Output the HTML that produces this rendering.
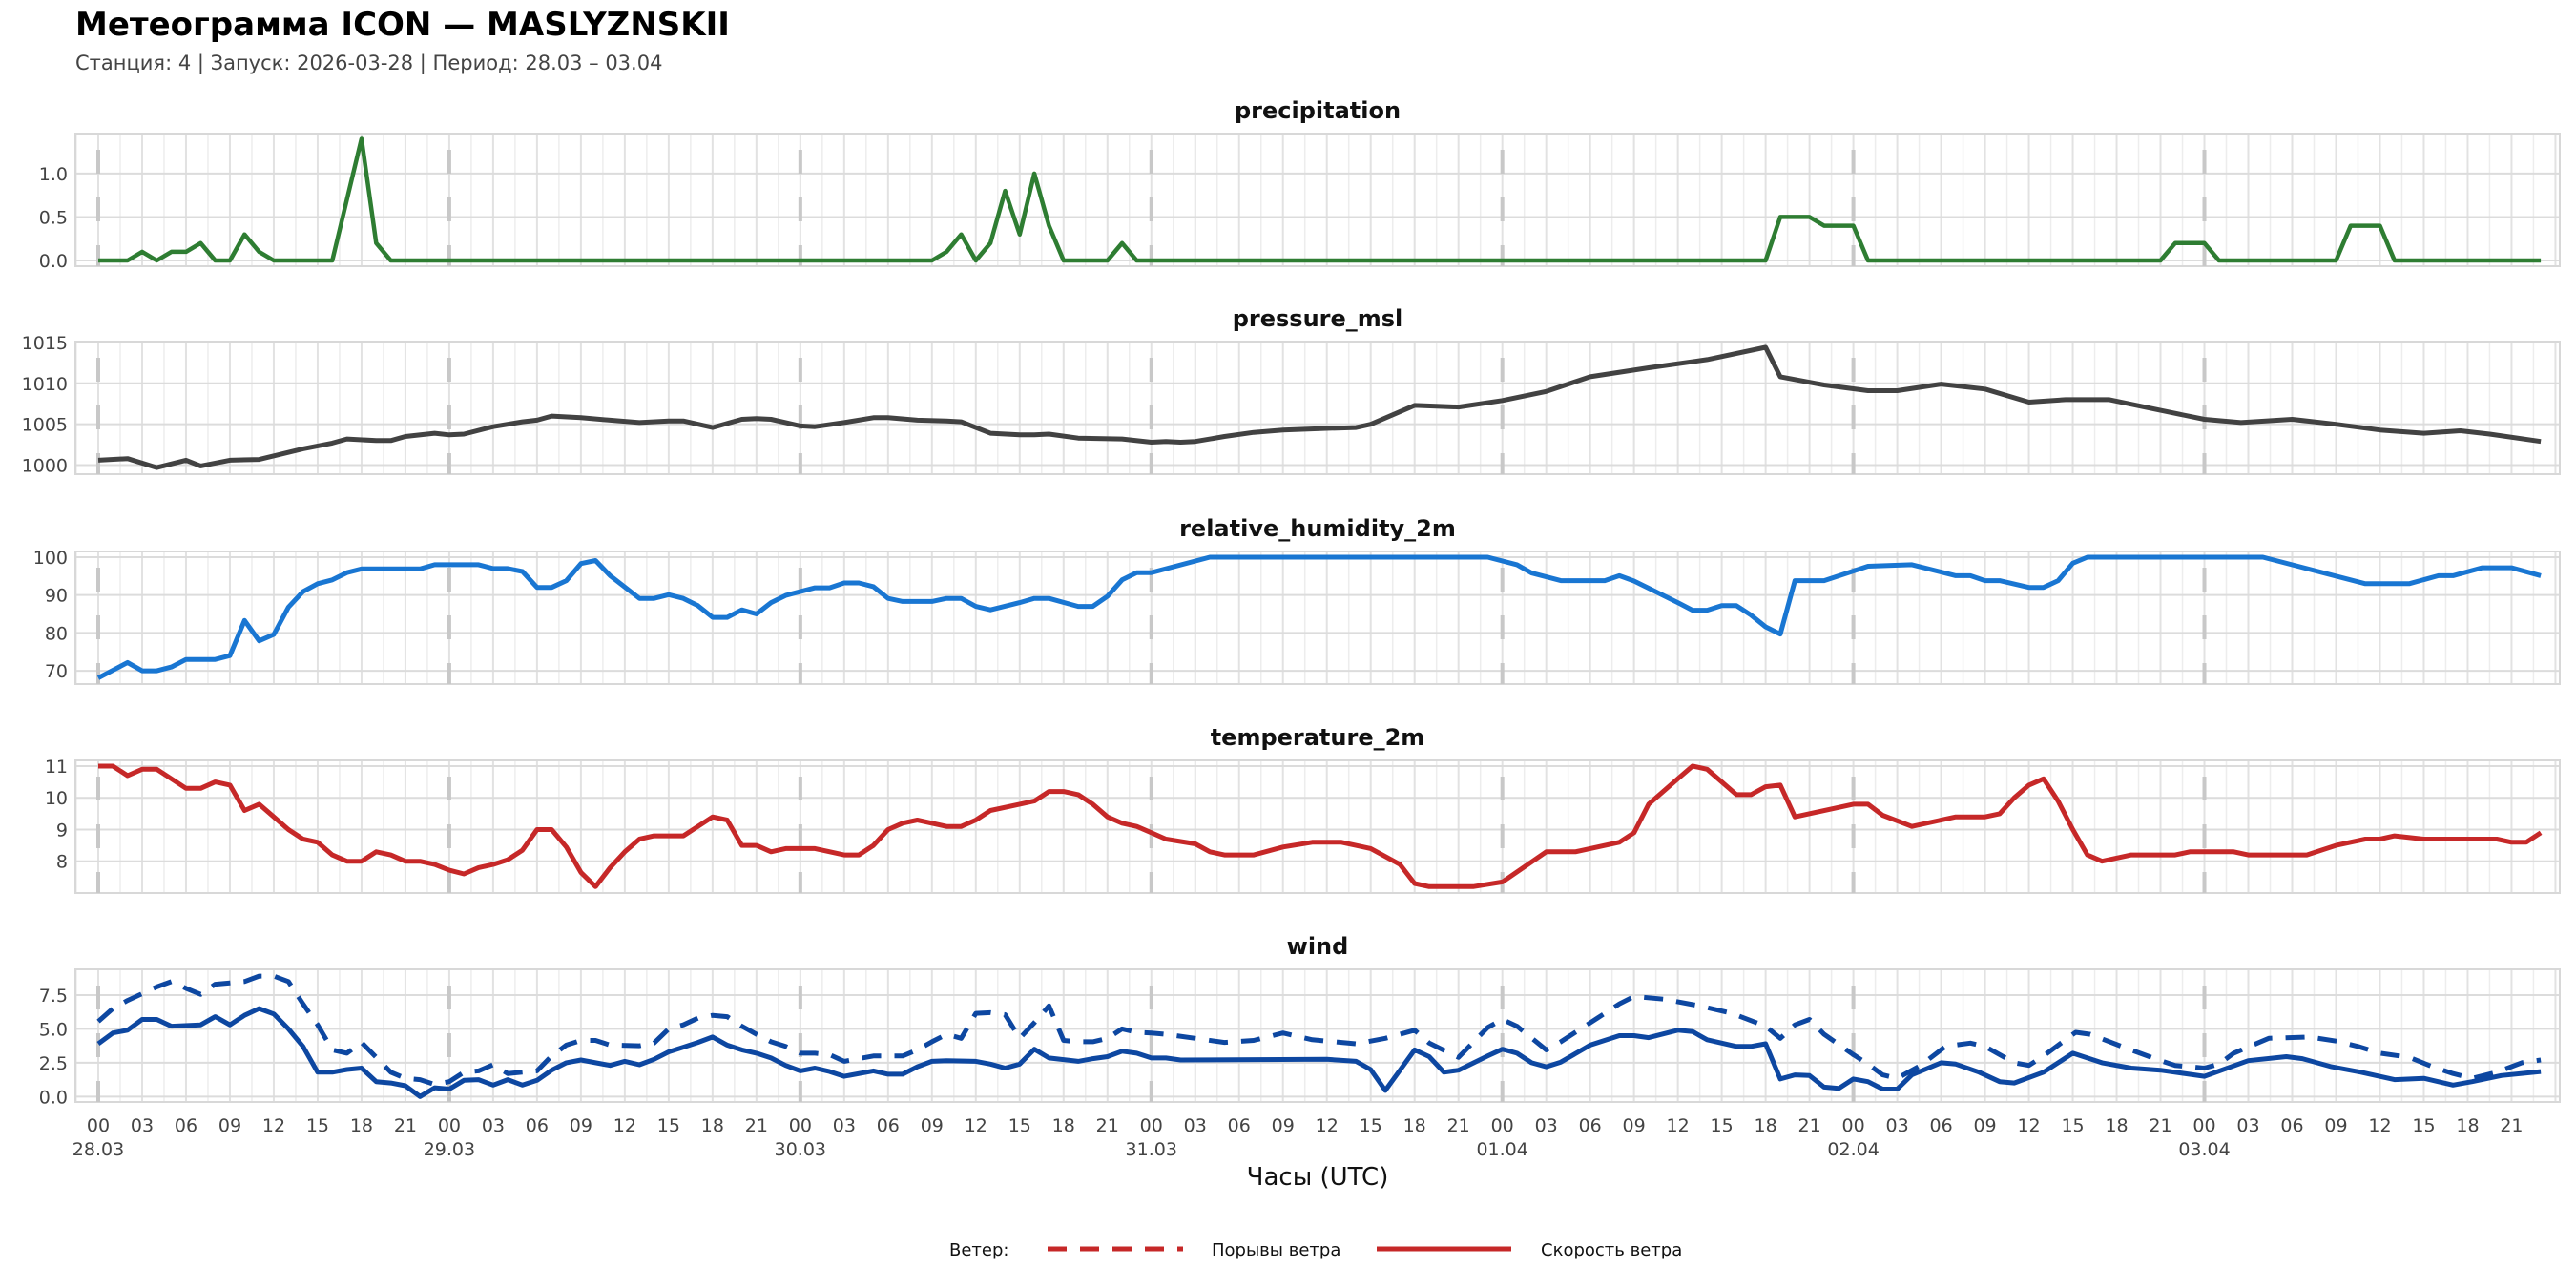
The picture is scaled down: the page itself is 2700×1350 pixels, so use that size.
<!DOCTYPE html>
<html><head><meta charset="utf-8">
<style>
html,body{margin:0;padding:0;background:#fff;}
svg{display:block;font-family:"DejaVu Sans","Liberation Sans",sans-serif;}
</style></head>
<body>
<svg id="chart" width="2700" height="1350" viewBox="0 0 2700 1350" xmlns="http://www.w3.org/2000/svg">
<text x="79" y="37" font-size="34" font-weight="bold" fill="#000">Метеограмма ICON — MASLYZNSKII</text>
<text x="79" y="73" font-size="21" fill="#444">Станция: 4  | Запуск: 2026-03-28  | Период: 28.03 – 03.04</text>
<g id="panels"></g>
<text x="1381" y="1242" font-size="26" text-anchor="middle" fill="#111">Часы (UTC)</text>
<g>
<text x="995" y="1316" font-size="18" fill="#111">Ветер:</text>
<line x1="1098" y1="1309" x2="1240" y2="1309" stroke="#c62828" stroke-width="5" stroke-dasharray="20,14"/>
<text x="1270" y="1316" font-size="18" fill="#111">Порывы ветра</text>
<line x1="1443" y1="1309" x2="1584" y2="1309" stroke="#c62828" stroke-width="5"/>
<text x="1615" y="1316" font-size="18" fill="#111">Скорость ветра</text>
</g>
</svg>
<script>
// ---- data (hours since 28.03 00 UTC) ----
const dayLabels = ["28.03","29.03","30.03","31.03","01.04","02.04","03.04"];
const hourLabels = ["00","03","06","09","12","15","18","21"];

const precipHours = [0,1,2,3,4,5,6,7,8,9,10,11,12,16,17,18,19,20,57,58,59,60,61,62,63,64,65,66,69,70,71,114,115,117,118,120,121,141,142,144,145,153,154,156,157,167];
const precipValues = [0,0,0,0.1,0,0.1,0.1,0.2,0,0,0.3,0.1,0,0,0.7,1.4,0.2,0,0,0.1,0.3,0,0.2,0.8,0.3,1.0,0.4,0,0,0.2,0,0,0.5,0.5,0.4,0.4,0,0,0.2,0.2,0,0,0.4,0.4,0,0];

const pressureHours = [0,2,4,6,7,9,11,14,16,17,19,20,21,23,24,25,27,29,30,31,33,35,37,39,40,42,44,45,46,48,49,51,53,54,56,58,59,61,63,64,65,67,70,72,73,74,75,77,79,81,84,86,87,90,93,96,99,102,106,110,114,115,118,121,123,126,129,132,134.5,137.5,141,144,146.5,150,153,156,159,161.5,163.5,167];
const pressureValues = [1000.6,1000.8,999.7,1000.6,999.9,1000.6,1000.7,1002.0,1002.7,1003.2,1003.0,1003.0,1003.5,1003.9,1003.7,1003.8,1004.7,1005.3,1005.5,1006.0,1005.8,1005.5,1005.2,1005.4,1005.4,1004.6,1005.6,1005.7,1005.6,1004.8,1004.7,1005.2,1005.8,1005.8,1005.5,1005.4,1005.3,1003.9,1003.7,1003.7,1003.8,1003.3,1003.2,1002.8,1002.9,1002.8,1002.9,1003.5,1004.0,1004.3,1004.5,1004.6,1005.0,1007.3,1007.1,1007.9,1009.0,1010.8,1011.9,1012.9,1014.4,1010.8,1009.8,1009.1,1009.1,1009.9,1009.3,1007.7,1008.0,1008.0,1006.7,1005.6,1005.2,1005.6,1005.0,1004.3,1003.9,1004.2,1003.8,1002.9];

const humidityHours = [0,2,3,4,5,6,8,9,10,11,12,13,14,15,16,17,18,22,23,26,27,28,29,30,31,32,33,34,35,37,38,39,40,41,42,43,44,45,46,47,48,49,50,51,52,53,54,55,57,58,59,60,61,63,64,65,67,68,69,70,71,72,76,95,97,98,100,103,104,105,106,108,109,110,111,112,113,114,115,116,118,121,124,127,128,129,130,132,133,134,135,136,148,155,158,160,161,163,165,167];
const humidityValues = [68.1,72.2,70,70,71,73,73,74,83.3,77.9,79.6,86.8,90.9,93,94,95.9,96.9,96.9,98,98,97,97,96.2,92,92,93.8,98.3,99.1,95.1,89.1,89.1,90.1,89.1,87.2,84.1,84.1,86.1,85,88,89.9,90.9,91.9,91.9,93.2,93.2,92.2,89.1,88.3,88.3,89.1,89.1,87,86.1,88,89.1,89.1,87,87,89.7,94,95.9,95.9,100,100,98,95.8,93.8,93.8,95.1,93.7,91.8,88,86,86,87.2,87.2,84.7,81.6,79.7,93.8,93.8,97.6,98,95.1,95.1,93.8,93.8,92,92,93.8,98.4,100,100,93,93,95.1,95.1,97.2,97.2,95.1];

const temperatureHours = [0,1,2,3,4,5,6,7,8,9,10,11,12,13,14,15,16,17,18,19,20,21,22,23,24,25,26,27,28,29,30,31,32,33,34,35,36,37,38,40,42,43,44,45,46,47,49,51,52,53,54,55,56,58,59,60,61,63,64,65,66,67,68,69,70,71,72,73,75,76,77,79,81,83,85,87,89,90,91,94,96,99,101,104,105,106,108,109,110,112,113,114,115,116,120,121,122,124,127,129,130,131,132,133,134,135,136,137,139,142,143,146,147,151,153,155,156,157,159,164,165,166,167];
const temperatureValues = [11,11,10.7,10.9,10.9,10.6,10.3,10.3,10.5,10.4,9.6,9.8,9.4,9.0,8.7,8.6,8.2,8.0,8.0,8.3,8.2,8.0,8.0,7.9,7.72,7.6,7.8,7.9,8.05,8.35,9.0,9.0,8.45,7.65,7.2,7.8,8.3,8.7,8.8,8.8,9.4,9.3,8.5,8.5,8.3,8.4,8.4,8.2,8.2,8.5,9.0,9.2,9.3,9.1,9.1,9.3,9.6,9.8,9.9,10.2,10.2,10.1,9.8,9.4,9.2,9.1,8.9,8.7,8.55,8.3,8.2,8.2,8.45,8.6,8.6,8.4,7.9,7.3,7.2,7.2,7.35,8.3,8.3,8.6,8.9,9.8,10.6,11.0,10.9,10.1,10.1,10.35,10.4,9.4,9.8,9.8,9.45,9.1,9.4,9.4,9.5,10.0,10.4,10.6,9.9,9.0,8.2,8.0,8.2,8.2,8.3,8.3,8.2,8.2,8.5,8.7,8.7,8.8,8.7,8.7,8.6,8.6,8.9];

const windHours = [0,1,2,3,4,5,7,8,9,10,11,12,13,14,15,16,17,18,19,20,21,22,23,24,25,26,27,28,29,30,31,32,33,35,36,37,38,39,40,41,42,43,44,45,46,47,48,49,50,51,53,54,55,56,57,58,60,61,62,63,64,65,67,68,69,70,71,72,73,74,84,86,87,88,89,90,91,92,93,95,96,97,98,99,100,102,104,105,106,108,109,110,112,113,114,115,116,117,118,119,120,121,122,123,124,126,127,128.6,130,131,133,135,137,139,141,144,147,149.6,150.7,152.7,154.7,157,159,161,162.3,164.3,167];
const windSpeed = [3.9,4.7,4.9,5.7,5.7,5.2,5.3,5.9,5.3,6.0,6.5,6.1,5.0,3.7,1.8,1.8,2.0,2.1,1.1,1.0,0.8,0,0.65,0.55,1.2,1.25,0.85,1.25,0.85,1.2,1.95,2.5,2.7,2.3,2.6,2.35,2.75,3.3,3.65,4.0,4.4,3.8,3.45,3.2,2.85,2.3,1.9,2.1,1.85,1.5,1.9,1.65,1.65,2.2,2.6,2.65,2.6,2.4,2.1,2.4,3.5,2.85,2.6,2.8,2.95,3.35,3.2,2.85,2.85,2.7,2.75,2.6,2.0,0.45,1.95,3.45,2.95,1.8,1.95,3.0,3.5,3.2,2.5,2.2,2.55,3.8,4.5,4.5,4.35,4.9,4.8,4.2,3.7,3.7,3.9,1.3,1.6,1.55,0.7,0.6,1.3,1.1,0.55,0.55,1.6,2.5,2.4,1.8,1.1,1.0,1.8,3.2,2.5,2.1,1.95,1.5,2.65,2.95,2.8,2.2,1.8,1.25,1.35,0.85,1.1,1.55,1.85];

const gustHours = [0,1,2,3,4,5,6,7,8,9,10,11,12,13,14,15,16,17,18,19,20,21,22,23,24,25,26,27,28,29,30,31,32,33,34,35,37,38,39,40,41,42,43,44,45,46,47,48,49,50,51,53,55,56,57,58,59,60,61,62,63,64,65,66,67,68,69,70,71,72,73,75,77,79,81,83,86,88,90,91,93,95,96,97,99,100,102.5,104,105,107,109.5,111.7,114,115,116,117,118,120,121,122,123,124.6,126.3,128,129,131,132,133,135.2,136.2,138.6,141,142,144,145,146,148.4,151.2,153,154.5,156,158,159.6,161,162.3,164,165.7,167];
const gustValues = [5.55,6.5,7.1,7.6,8.1,8.5,8.0,7.55,8.3,8.4,8.5,8.9,8.9,8.5,6.85,5.3,3.45,3.2,4.0,2.9,1.8,1.35,1.25,0.9,1.1,1.8,1.9,2.35,1.7,1.8,1.9,3.0,3.8,4.15,4.15,3.8,3.75,3.95,5.0,5.3,5.8,6.0,5.9,5.2,4.6,4.05,3.7,3.2,3.2,3.1,2.6,3.0,3.0,3.45,4.05,4.6,4.3,6.15,6.2,6.05,4.3,5.45,6.7,4.15,4.05,4.05,4.3,5.0,4.75,4.7,4.6,4.3,4.0,4.15,4.7,4.2,3.9,4.3,4.9,3.95,2.9,5.1,5.7,5.2,3.45,4.05,5.8,6.85,7.4,7.2,6.7,6.15,5.2,4.3,5.3,5.7,4.6,3.1,2.4,1.6,1.35,2.3,3.7,3.95,3.7,2.5,2.3,3.0,4.75,4.6,3.6,2.65,2.3,2.1,2.4,3.2,4.3,4.4,4.1,3.7,3.2,2.9,2.2,1.7,1.35,1.8,2.5,2.7];

const yTicksPrecip = [0,0.5,1.0];
const yTicksPressure = [1000,1005,1010,1015];
const yTicksHumidity = [70,80,90,100];
const yTicksTemp = [8,9,10,11];
const yTicksWind = [0,2.5,5.0,7.5];

// ---- layout ----
const NS = "http://www.w3.org/2000/svg";
const PL = 79, PR = 2683, PH = 139;
const X0 = 103, PXH = 15.33;
function xScale(h){ return X0 + h * PXH; }
function mk(tag, attrs, parent){
  const e = document.createElementNS(NS, tag);
  for (const k in attrs) e.setAttribute(k, attrs[k]);
  parent.appendChild(e);
  return e;
}
const root = document.getElementById("panels");

const panels = [
  {name:"precipitation", top:140, y0:-0.066, y1:1.46, ticks:yTicksPrecip, fmt:v=>v.toFixed(1)},
  {name:"pressure_msl", top:358, y0:998.9, y1:1015.1, ticks:yTicksPressure, fmt:v=>String(v)},
  {name:"relative_humidity_2m", top:578, y0:66.5, y1:101.5, ticks:yTicksHumidity, fmt:v=>String(v)},
  {name:"temperature_2m", top:797, y0:7.0, y1:11.18, ticks:yTicksTemp, fmt:v=>String(v)},
  {name:"wind", top:1016, y0:-0.4, y1:9.4, ticks:yTicksWind, fmt:v=>v.toFixed(1)}
];

function yScaleFor(p){ return v => p.top + PH - (v - p.y0) / (p.y1 - p.y0) * PH; }

function drawSeries(g, hours, vals, ys, color, width, dash, name){
  let d = "";
  for (let i = 0; i < hours.length; i++){
    d += (i ? "L" : "M") + xScale(hours[i]).toFixed(1) + " " + ys(vals[i]).toFixed(1);
  }
  const path = mk("path", {d:d, fill:"none", stroke:color, "stroke-width":width, "stroke-linejoin":"round"}, g);
  if (dash) path.setAttribute("stroke-dasharray", dash);
  
  
}

panels.forEach((p, idx) => {
  const g = mk("g", {}, root);
  
  
  const ys = yScaleFor(p);
  const bottom = p.top + PH;
  const t = mk("text", {x:(PL+PR)/2, y:p.top-16, "font-size":24, "font-weight":"bold", "text-anchor":"middle", fill:"#111"}, g);
  t.textContent = p.name;
  
  
  // minor + major vertical gridlines
  for (let h = -1.5; h <= 168; h += 1.5){
    const x = xScale(h);
    if (x < PL || x > PR) continue;
    const major = (Math.round(h*2) % 6 === 0);
    const gl = mk("line", {x1:x, x2:x, y1:p.top, y2:bottom, stroke: major ? "#e2e2e2" : "#ededed", "stroke-width": major ? 2 : 1.5}, g);
    
    
  }
  // horizontal gridlines and tick labels
  p.ticks.forEach(v => {
    const y = ys(v);
    const hl = mk("line", {x1:PL, x2:PR, y1:y, y2:y, stroke:"#dcdcdc", "stroke-width":2}, g);
    
    
    const tl = mk("text", {x:PL-8, y:y+7, "font-size":19, "text-anchor":"end", fill:"#444"}, g);
    tl.textContent = p.fmt(v);
    
    
  });
  // frame
  const fr = mk("rect", {x:PL, y:p.top, width:PR-PL, height:PH, fill:"none", stroke:"#d8d8d8", "stroke-width":2}, g);
  
  
  // day separators
  dayLabels.forEach((lab, i) => {
    const x = xScale(i*24);
    const dl = mk("line", {x1:x, x2:x, y1:p.top, y2:bottom, stroke:"#c8c8c8", "stroke-width":4, "stroke-dasharray":"25,25", "stroke-dashoffset":"-17"}, g);
    
    
  });
  if (idx === 0) drawSeries(g, precipHours, precipValues, ys, "#2e7d32", 4.5, null, "precipitation-line");
  if (idx === 1) drawSeries(g, pressureHours, pressureValues, ys, "#424242", 5, null, "pressure-line");
  if (idx === 2) drawSeries(g, humidityHours, humidityValues, ys, "#1976d2", 5, null, "humidity-line");
  if (idx === 3) drawSeries(g, temperatureHours, temperatureValues, ys, "#c62828", 5, null, "temperature-line");
  if (idx === 4){
    drawSeries(g, gustHours, gustValues, ys, "#0d47a1", 5, "20,14", "wind-gust-line");
    drawSeries(g, windHours, windSpeed, ys, "#0d47a1", 5, null, "wind-speed-line");
  }
});

// x axis labels
const xg = mk("g", {}, root);


for (let d = 0; d < dayLabels.length; d++){
  hourLabels.forEach((hl, j) => {
    const h = d*24 + j*3;
    if (h > 167) return;
    const tx = mk("text", {x:xScale(h), y:1186, "font-size":19, "text-anchor":"middle", fill:"#444"}, xg);
    tx.textContent = hl;
    
    
  });
  const dt = mk("text", {x:xScale(d*24), y:1211, "font-size":19, "text-anchor":"middle", fill:"#444"}, xg);
  dt.textContent = dayLabels[d];
  
  
}
</script>
</body></html>
